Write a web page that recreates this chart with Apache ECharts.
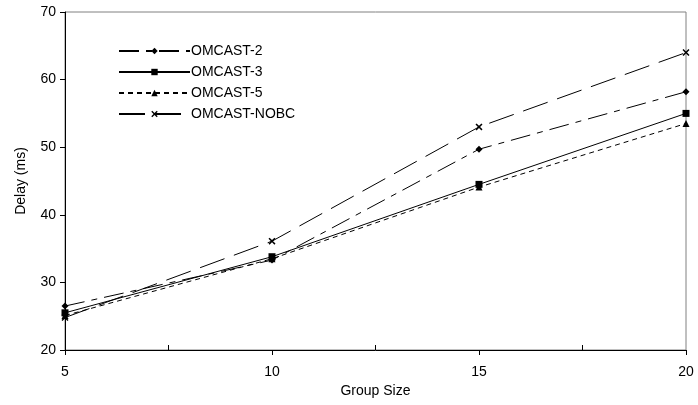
<!DOCTYPE html>
<html>
<head>
<meta charset="utf-8">
<script src="https://cdn.jsdelivr.net/npm/echarts@6/dist/echarts.min.js"></script>
<style>
  html, body { margin: 0; padding: 0; background: #fff; }
  #chart { width: 698px; height: 405px; }
</style>
</head>
<body>
<div id="chart"></div>
<script>
// group sizes and delays
const groupSizes = [5, 10, 15, 20];
const omcast2 = [26.5, 33.3, 49.7, 58.2];
const omcast3 = [25.5, 33.8, 44.5, 55.0];
const omcast5 = [25.1, 33.5, 44.1, 53.5];
const omcastNobc = [24.8, 36.1, 53.0, 64.0];

const xMinorTicks = [7.5, 12.5, 17.5];

const crossSymbol = "path://M0,1.5L1.5,0L5,3.5L8.5,0L10,1.5L6.5,5L10,8.5L8.5,10L5,6.5L1.5,10L0,8.5L3.5,5Z";
const font = "Liberation Sans, Arial, sans-serif";

const pairs = (ys) => groupSizes.map((x, i) => [x, ys[i]]);

const makeSeries = (name, ys, symbol, size, dash) => ({
  name: name,
  type: "line",
  data: pairs(ys),
  symbol: symbol,
  symbolSize: size,
  showSymbol: true,
  color: "#000",
  itemStyle: { color: "#000" },
  lineStyle: { color: "#000", width: 1, type: dash },
  emphasis: { disabled: true },
  animation: false
});

const chart = echarts.init(document.getElementById("chart"));

chart.setOption({
  animation: false,
  textStyle: { fontFamily: font },
  grid: {
    left: 65,
    right: 12,
    top: 12,
    bottom: 55,
    show: true,
    borderColor: "#808080",
    borderWidth: 1
  },
  legend: {
    orient: "vertical",
    left: 113,
    top: 39,
    itemWidth: 71,
    itemHeight: 8,
    itemGap: 7,
    textStyle: { fontSize: 14, color: "#000", fontFamily: font, padding: [0, 0, 0, -4] },
    data: ["OMCAST-2", "OMCAST-3", "OMCAST-5", "OMCAST-NOBC"]
  },
  xAxis: [
    {
      type: "value",
      min: 5,
      max: 20,
      interval: 5,
      name: "Group Size",
      nameLocation: "middle",
      nameGap: 30,
      nameTextStyle: { fontSize: 14, color: "#000", fontFamily: font },
      axisLine: { show: true, lineStyle: { color: "#000", width: 1 } },
      axisTick: { show: true, inside: false, length: 5, lineStyle: { color: "#000" } },
      axisLabel: { fontSize: 14, color: "#000", margin: 15, fontFamily: font },
      splitLine: { show: false }
    },
    {
      type: "value",
      min: 5,
      max: 20,
      position: "bottom",
      axisLine: { show: false },
      axisTick: { show: true, inside: true, length: 5, customValues: xMinorTicks, lineStyle: { color: "#000" } },
      axisLabel: { show: false },
      splitLine: { show: false }
    }
  ],
  yAxis: {
    type: "value",
    min: 20,
    max: 70,
    interval: 10,
    name: "Delay (ms)",
    nameLocation: "middle",
    nameGap: 37,
    nameTextStyle: { fontSize: 14, color: "#000", fontFamily: font },
    axisLine: { show: true, lineStyle: { color: "#000", width: 1 } },
    axisTick: { show: true, inside: false, length: 5, lineStyle: { color: "#000" } },
    axisLabel: { fontSize: 14, color: "#000", margin: 9, fontFamily: font },
    splitLine: { show: false }
  },
  series: [
    makeSeries("OMCAST-2", omcast2, "diamond", 7, [20, 7, 6, 7]),
    makeSeries("OMCAST-3", omcast3, "rect", 7, "solid"),
    makeSeries("OMCAST-5", omcast5, "triangle", 7, [5, 4]),
    makeSeries("OMCAST-NOBC", omcastNobc, crossSymbol, 7, [26, 10])
  ]
});
</script>
</body>
</html>
